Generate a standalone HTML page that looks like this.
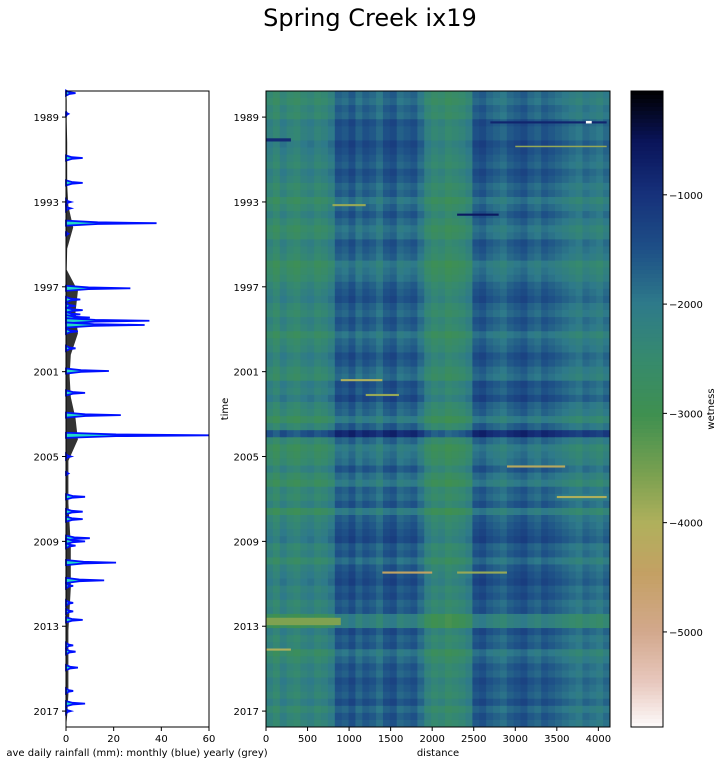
<!DOCTYPE html>
<html><head><meta charset="utf-8"><style>
body{margin:0;background:#fff}
svg text{font-family:"DejaVu Sans","Liberation Sans",sans-serif;font-size:10px;fill:#000}
</style></head><body>
<svg id="fig" width="724" height="765" xmlns="http://www.w3.org/2000/svg">
<text x="370" y="26" text-anchor="middle" style="font-size:24px">Spring Creek ix19</text>
<g id="rain"></g>
<g id="heat"></g>
<g id="cbar"></g>
</svg>
<script>
// ---------- data ----------
const yearTicks=[1989,1993,1997,2001,2005,2009,2013,2017];
const rainTicks=[0,20,40,60];
const distTicks=[0,500,1000,1500,2000,2500,3000,3500,4000];
const cbarTicks=[-1000,-2000,-3000,-4000,-5000];
const peakYears=[1987.87,1988.85,1990.93,1992.1,1993.0,1993.3,1994.0,1994.5,1997.07,1997.6,1997.9,1998.1,1998.3,1998.45,1998.6,1998.8,1999.1,1999.9,2000.97,2002.0,2003.05,2004.0,2005.0,2005.8,2006.9,2007.6,2007.95,2008.85,2009.0,2009.2,2010.0,2010.84,2011.1,2011.9,2012.3,2012.7,2013.9,2014.2,2014.95,2016.05,2016.65,2017.0];
const peakValues=[4,1,7,7,2,2,38,1,27,6,4,7,6,10,35,33,5,4,18,8,23,60,2,1,8,7,7,10,8,4,21,16,3,3,3,7,3,4,5,3,8,2];
const yearlyYears=[1988,1989,1990,1991,1992,1993,1994,1995,1996,1997,1998,1999,2000,2001,2002,2003,2004,2005,2006,2007,2008,2009,2010,2011,2012,2013,2014,2015,2016,2017];
const yearlyValues=[0.3,0.3,0.5,0.5,0.5,1,3,0.5,0.3,5,4,5,2,1.5,2,4,5,1,1,1,1.5,2,2,2,1.5,1,1,1,1,0.5];
const colProfile=[-2400,-2600,-2300,-2500,-2600,-2400,-2300,-2500,-2400,-2200,
 -1700,-1800,-1600,-1900,-1700,-1800,-2000,-1700,-1600,-1900,-1800,-1700,-2000,
 -2400,-2600,-2500,-2700,-2600,-2500,-2300,
 -1700,-1600,-1800,-1900,-2000,-1800,-1700,-1600,-1800,-1900,-1700,-1800,-1900,-2000,
 -2100,-2200,-2000,-2100,-2200,-2000];
const rowAnom=[0,-100,100,0,300,200, 200,400,300,200,100,300, 200,0,100,-200,0,200, 0,-200,-100,200,100,0, -300,-200,-100,100,200,300, 100,0,200,100,-200,0, 100,300,200,0,-100,300, 200,400,100,0,-300,100, 900,0,-300,-200,-100,200, -100,-300,100,0,200,-300, 100,200,300,400,100,200, -100,200,300,400,200,300, 100,200,-400,-400,300,100, 200,-200,0,200,100,300, 200,100,300,0,200,100];
const stripeT0=[1990.0,1993.1,1993.55,1989.2,1990.35,2001.35,2002.05,2005.42,2006.86,2010.42,2010.42,2012.6,2014.05,1989.18];
const stripeT1=[1990.15,1993.2,1993.65,1989.3,1990.42,2001.45,2002.15,2005.52,2006.96,2010.52,2010.52,2012.95,2014.15,1989.3];
const stripeD0=[0,800,2300,2700,3000,900,1200,2900,3500,1400,2300,0,0,3850];
const stripeD1=[300,1200,2800,4100,4100,1400,1600,3600,4100,2000,2900,900,300,3920];
const stripeV=[-900,-3800,-600,-800,-3800,-4000,-3800,-4200,-4000,-4400,-3800,-3600,-4000,-5870];
// ---------- scales ----------
const T0=1987.77,T1=2017.75,TOP=91,BOT=727;
const yS=t=>TOP+(t-T0)/(T1-T0)*(BOT-TOP);
const rX=v=>66+v/60*143;
const dMax=4140,dX=d=>266+d/dMax*344;
const VMIN=-5870,VMAX=-50;
const cY=v=>TOP+(VMAX-v)/(VMAX-VMIN)*(BOT-TOP);
const stops=[[0,[0,0,0]],[0.08,[10,20,90]],[0.16,[22,48,122]],[0.25,[30,80,135]],[0.335,[46,122,138]],[0.42,[54,138,110]],[0.51,[63,144,80]],[0.6,[120,160,80]],[0.68,[176,176,92]],[0.76,[196,160,100]],[0.85,[210,168,140]],[0.93,[232,200,190]],[1,[253,250,250]]];
function cmap(v){let p=(VMAX-v)/(VMAX-VMIN);p=Math.max(0,Math.min(1,p));
 for(let i=1;i<stops.length;i++){if(p<=stops[i][0]){const a=stops[i-1],b=stops[i],f=(p-a[0])/(b[0]-a[0]);
 return 'rgb('+a[1].map((c,k)=>Math.round(c+(b[1][k]-c)*f)).join(',')+')';}}return 'rgb(253,250,250)';}
const NS='http://www.w3.org/2000/svg';
function mk(tag,attrs,parent){const e=document.createElementNS(NS,tag);for(const k in attrs)e.setAttribute(k,attrs[k]);parent.appendChild(e);return e;}
// ---------- rainfall panel ----------
const rain=document.getElementById('rain');
let gp='M'+rX(0)+','+yS(T0);
yearlyYears.forEach((y,i)=>{gp+=' L'+rX(yearlyValues[i]).toFixed(1)+','+yS(y+0.2).toFixed(1);});
gp+=' L'+rX(0)+','+BOT+' Z';
const gy=mk('path',{d:gp,fill:'#333',stroke:'none'},rain);


peakYears.forEach((y,i)=>{
 const p=mk('path',{d:'M'+rX(0)+','+yS(y-0.12)+' L'+rX(peakValues[i]*0.35)+','+yS(y-0.04)+' L'+Math.min(rX(peakValues[i]),209)+','+yS(y)+' L'+rX(peakValues[i]*0.35)+','+yS(y+0.04)+' L'+rX(0)+','+yS(y+0.12)+' Z',fill:'#20d8c8',stroke:'#0010ff','stroke-width':1.8},rain);
 
 
});
const rf=mk('rect',{x:66,y:91,width:143,height:636,fill:'none',stroke:'#000','stroke-width':1},rain);


yearTicks.forEach(t=>{mk('line',{x1:62,x2:66,y1:yS(t),y2:yS(t),stroke:'#000'},rain);
 const tx=mk('text',{x:59,y:yS(t)+4,'text-anchor':'end'},rain);tx.textContent=t;
 
 });
rainTicks.forEach(v=>{mk('line',{x1:rX(v),x2:rX(v),y1:727,y2:731,stroke:'#000'},rain);
 const tx=mk('text',{x:rX(v),y:742,'text-anchor':'middle'},rain);tx.textContent=v;
 
 });
const rl=mk('text',{x:137,y:756,'text-anchor':'middle'},rain);rl.textContent='ave daily rainfall (mm): monthly (blue) yearly (grey)';


// ---------- heatmap ----------
const heat=document.getElementById('heat');
const nR=rowAnom.length,nC=colProfile.length,rh=(T1-T0)/nR,cw=dMax/nC;
for(let r=0;r<nR;r++)for(let c=0;c<nC;c++){
 const val=colProfile[c]+rowAnom[r];
 const e=mk('rect',{x:dX(c*cw).toFixed(2),y:yS(T0+r*rh).toFixed(2),width:(344/nC+0.5).toFixed(2),height:(636/nR+0.5).toFixed(2),fill:cmap(val)},heat);
 
 
}
stripeV.forEach((v,i)=>{
 const e=mk('rect',{x:dX(stripeD0[i]),y:yS(stripeT0[i]),width:dX(stripeD1[i])-dX(stripeD0[i]),height:yS(stripeT1[i])-yS(stripeT0[i]),fill:cmap(v)},heat);
 
 
});
const hf=mk('rect',{x:266,y:91,width:344,height:636,fill:'none',stroke:'#000'},heat);


yearTicks.forEach(t=>{mk('line',{x1:262,x2:266,y1:yS(t),y2:yS(t),stroke:'#000'},heat);
 const tx=mk('text',{x:259,y:yS(t)+4,'text-anchor':'end'},heat);tx.textContent=t;
 
 });
distTicks.forEach(d=>{mk('line',{x1:dX(d),x2:dX(d),y1:727,y2:731,stroke:'#000'},heat);
 const tx=mk('text',{x:dX(d),y:742,'text-anchor':'middle'},heat);tx.textContent=d;
 
 });
const xl=mk('text',{x:438,y:756,'text-anchor':'middle'},heat);xl.textContent='distance';


const yl=mk('text',{x:228,y:409,'text-anchor':'middle',transform:'rotate(-90 228 409)'},heat);yl.textContent='time';


// ---------- colorbar ----------
const cb=document.getElementById('cbar');
for(let i=0;i<160;i++){const v=VMAX-(VMAX-VMIN)*(i+0.5)/160;
 const e=mk('rect',{x:631,y:(TOP+i*636/160).toFixed(2),width:32,height:(636/160+0.5).toFixed(2),fill:cmap(v)},cb);
 
 }
mk('rect',{x:631,y:91,width:32,height:636,fill:'none',stroke:'#000'},cb);
cbarTicks.forEach(v=>{mk('line',{x1:663,x2:667,y1:cY(v),y2:cY(v),stroke:'#000'},cb);
 const tx=mk('text',{x:669,y:cY(v)+4},cb);tx.textContent='\u2212'+Math.abs(v);
 
 });
const wl=mk('text',{x:714,y:409,'text-anchor':'middle',transform:'rotate(-90 714 409)'},cb);wl.textContent='wetness';


</script>
</body></html>
